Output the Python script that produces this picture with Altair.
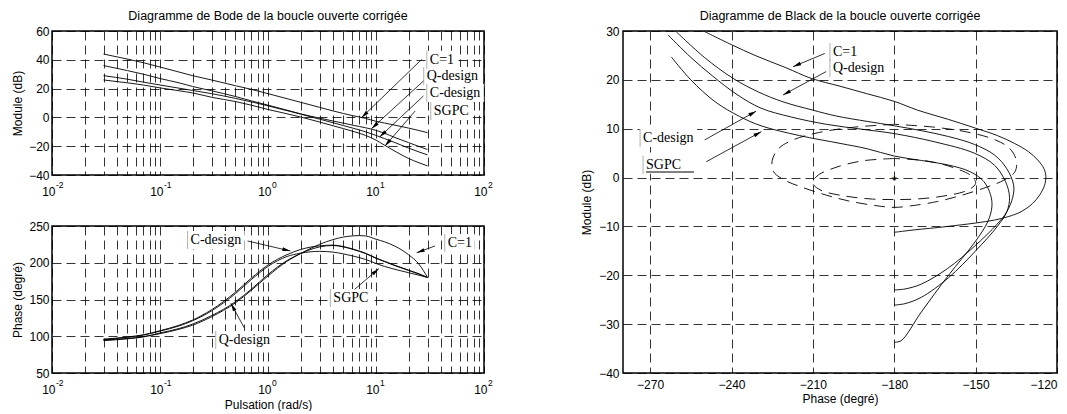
import math
import altair as alt
import pandas as pd

SANS = "Liberation Sans"
SERIF = "Liberation Serif"

# ---------------- Bode data ----------------
W = [0.03, 0.05, 0.07, 0.1, 0.15, 0.2, 0.3, 0.5, 0.7, 1, 1.5, 2, 3, 4, 5, 6, 7, 8, 10, 12, 15, 20, 25, 30]
curves = ["C=1", "Q-design", "C-design", "SGPC"]

mag_c1 = [44, 40.5, 38, 35, 31.5, 29, 26, 22, 19.5, 16.5, 13, 10.5, 7, 4.5, 2.7, 1.3, 0.3, -0.7, -2.7, -3.9, -5.4, -7.4, -9.1, -10.6]
mag_q = [36, 32.5, 30, 27, 24, 21.5, 18.5, 14.5, 11.5, 8.5, 5, 2.5, -0.5, -2.5, -4, -5.3, -6.3, -7.2, -9, -11, -14, -17.5, -20.2, -22.3]
mag_c = [29, 26.5, 24.5, 22.5, 20.3, 18.7, 16.5, 13.2, 10.8, 8, 4.7, 2.3, -1.2, -3.7, -5.7, -7.3, -8.7, -10, -12.5, -14.7, -17.5, -21.3, -24, -26]
mag_s = [26, 24, 22.5, 20.5, 18.5, 17, 14, 11, 8.5, 5.5, 2.5, 0.3, -3.2, -5.8, -7.8, -9.5, -11, -12.5, -15.8, -19.3, -23.5, -28.5, -31.5, -33.7]

ph_c1 = [95, 97, 99.5, 103.5, 109.5, 115, 126.5, 145.5, 162.5, 182, 202, 212.5, 225, 231.5, 235, 236.5, 237, 236.5, 232, 228.5, 222.5, 211, 198, 180]
ph_q = [94, 96.5, 99, 104.5, 110.5, 116.5, 128, 147, 164, 184, 203, 212.5, 221.5, 223.5, 221.5, 218.5, 215.5, 212.5, 206, 201.5, 196, 189.5, 184.5, 180]
ph_c = [96, 99, 102, 107.5, 115, 122, 136, 160, 179, 197, 211, 218, 223, 224, 222, 219, 216, 213, 206.5, 202, 196.5, 190, 185, 180]
ph_s = [95.5, 98.5, 101.5, 107, 114, 121, 134.5, 158, 177, 195, 208.5, 213, 215.5, 214.5, 212, 209.5, 207, 204.5, 199, 195, 191, 186.5, 183, 180]

# ---------------- Black (Nichols) traces ----------------
bk_c1_ph = [-251.1, -240, -230.9, -220, -210.6, -200, -190.3, -180, -171.4, -160, -150.5, -142, -135.7, -130.5, -127.1, -124.8, -124.1, -124.6, -126.3, -129, -133.3, -138, -143.1, -150, -160.3, -167, -172.6, -177, -180]
bk_c1_mg = [30.2, 27.2, 24.9, 22.5, 20.3, 18.7, 17.2, 15.6, 13.8, 11.9, 10.2, 8.6, 7.0, 5.3, 3.6, 1.8, 0.2, -1.6, -3.5, -5.3, -7.0, -8.0, -8.7, -9.3, -10.0, -10.4, -10.7, -11.0, -11.2]
bk_q_ph = [-261, -250, -239.4, -230, -221, -210, -201.4, -190, -180, -170, -160, -150.5, -143, -138.5, -136, -136.3, -138.5, -142, -150.5, -160.3, -170, -176, -180]
bk_q_mg = [30.2, 24.6, 20.3, 17.5, 15.5, 13.8, 12.6, 11.5, 10.6, 9.6, 8.4, 6.8, 4.6, 1.8, -1.5, -4.0, -7.0, -9.5, -14.1, -18.6, -21.8, -22.8, -23]
bk_c_ph = [-263.4, -255, -247, -238, -229.1, -218, -205, -192, -180, -165, -150.5, -143, -139, -137.5, -138.5, -142, -150, -160, -170, -176, -180]
bk_c_mg = [29.2, 24.6, 20.8, 17, 14.2, 12.4, 10.9, 9.9, 9.0, 7.3, 5.0, 2.5, -0.8, -4, -7, -10, -15, -20.5, -24.5, -25.8, -26.1]
bk_s_ph = [-262.2, -255, -246, -237, -229.1, -215, -200, -190, -180, -170, -160.3, -152, -147, -144.5, -144, -145.5, -150, -160, -170, -177.5, -180]
bk_s_mg = [24.7, 20, 15.5, 12.5, 10.6, 8.6, 7, 5.9, 4.4, 3.5, 2.6, 1.2, -0.8, -3.5, -6, -9, -13, -20, -27.5, -33.4, -33.7]

# dashed contours around (-180, 0)
outer_ph = [-180, -195, -208, -217.3, -222.5, -225, -224.5, -220.5, -214.4, -205, -195.9, -186, -180, -174, -164.1, -155, -145.6, -139.5, -135.5, -135, -137.5, -142.7, -152, -165, -180]
outer_mg = [10.9, 10.3, 9.2, 7.7, 6, 3.5, 1.2, -0.5, -1.9, -3.6, -4.9, -5.8, -6.1, -5.8, -4.9, -3.6, -1.9, -0.5, 1.2, 3.5, 6, 7.7, 9.2, 10.3, 10.9]
inner_ph = [-180, -192, -202, -208.5, -210, -207, -198, -188, -180, -172, -162, -153, -150, -151.5, -158, -168, -180]
inner_mg = [3.9, 3.4, 2.0, 0.3, -1.2, -2.6, -3.8, -4.4, -4.5, -4.4, -3.8, -2.6, -1.2, 0.3, 2.0, 3.4, 3.9]

# ---------------- labels / arrows ----------------
top_lab = [("C=1", 31.5, 40), ("Q-design", 29.5, 28.7), ("C-design", 31.5, 16.9), ("SGPC", 34.3, 4.4)]
top_arr = [(26.5, 40.3, 7.33, -0.2), (27.5, 25.3, 9.08, -7.8), (27.5, 14.9, 10.8, -13.6), (23.0, 4.4, 12.1, -19.9)]
bot_lab = [("C-design", 0.192, 231), ("Q-design", 0.35, 94.9), ("SGPC", 4.03, 152), ("C=1", 46.2, 226.9)]
bot_arr = [(0.647, 229.6, 1.61, 216), (0.602, 111.6, 0.453, 144.8), (6.35, 163.9, 10.6, 191.9), (35.2, 222.8, 23.8, 213.7)]
blk_lab = [("C=1", -202.6, 25.7), ("Q-design", -202.6, 22.4), ("C-design", -272.6, 8.1), ("SGPC", -271.5, 2.6)]
blk_arr = [(-205.6, 25.4, -217.3, 22.7), (-205.1, 21.7, -221.0, 16.9), (-249.9, 7.7, -230.9, 13.6), (-249.3, 3.25, -229.0, 9.4)]

decades = [0.01, 0.1, 1, 10, 100]
dec_sup = ["-2", "-1", "0", "1", "2"]

# ---------------- geometry ----------------
LW, TH, BH = 432, 144, 147
RW, RH = 434, 342
minor = [k * 10 ** e for e in range(-2, 2) for k in range(1, 10)] + [100]
DASH = [9, 5]
TXT_W = {"C=1": 24, "Q-design": 51, "C-design": 51, "SGPC": 36}


def ang(dx, dy):
    return (math.degrees(math.atan2(dx, -dy)) + 360) % 360


HEAD = "M0,0L0.38,1.6L-0.38,1.6Z"

rows = []
for name, m, p in zip(curves, [mag_c1, mag_q, mag_c, mag_s], [ph_c1, ph_q, ph_c, ph_s]):
    for w, a, b in zip(W, m, p):
        rows.append({"w": w, "v": a, "ph": b, "curve": name})
bode = pd.DataFrame(rows)

rows = []
for name, ph, mg in zip(curves, [bk_c1_ph, bk_q_ph, bk_c_ph, bk_s_ph], [bk_c1_mg, bk_q_mg, bk_c_mg, bk_s_mg]):
    for i, (a, b) in enumerate(zip(ph, mg)):
        rows.append({"p": a, "m": b, "curve": name, "ord": i})
black = pd.DataFrame(rows)

rows = []
for name, ph, mg in [("outer", outer_ph, outer_mg), ("inner", inner_ph, inner_mg)]:
    for i, (a, b) in enumerate(zip(ph, mg)):
        rows.append({"p": a, "m": b, "c": name, "ord": i})
cont = pd.DataFrame(rows)

axis_common = dict(gridColor="black", gridDash=DASH, gridWidth=0.8, gridOpacity=1,
                   ticks=False, domain=False, labelFont=SANS, labelFontSize=12,
                   labelColor="black", titleFont=SANS, titleFontSize=12,
                   titleFontWeight="normal", titleColor="black")


def annotations(labs, arrs, fx, fy, ifx, ify, X, Y):
    """labels with white boxes, leader lines and arrow heads"""
    arr_df = pd.DataFrame([{"a": a, "b": b, "a2": c, "b2": e,
                            "ang": ang(fx(c) - fx(a), fy(e) - fy(b))} for a, b, c, e in arrs])
    rules = alt.Chart(arr_df).mark_rule(color="black", strokeWidth=0.8).encode(
        x=X("a"), y=Y("b"), x2="a2:Q", y2="b2:Q")
    heads = alt.Chart(arr_df.assign(a=arr_df.a2, b=arr_df.b2)).mark_point(
        shape=HEAD, filled=True, color="black", size=100, opacity=1).encode(
        x=X("a"), y=Y("b"), angle=alt.Angle("ang:Q", scale=None))
    lab_df = pd.DataFrame([{"t": t, "a": a, "b": b} for t, a, b in labs])
    box = []
    for t, a, b in labs:
        px, py = fx(a), fy(b)
        box.append({"a": ifx(px - 3), "a2": ifx(px + TXT_W[t] + 3), "b": ify(py - 9), "b2": ify(py + 9)})
    box_df = pd.DataFrame(box)
    rects = alt.Chart(box_df).mark_rect(color="white", opacity=1).encode(
        x=X("a"), x2="a2:Q", y=Y("b"), y2="b2:Q")
    edges = alt.Chart(box_df).mark_rule(color="#b0b0b0", strokeWidth=1).encode(
        x=X("a"), y=Y("b"), y2="b2:Q")
    texts = alt.Chart(lab_df).mark_text(font=SERIF, fontSize=14, align="left", baseline="middle", color="black").encode(
        x=X("a"), y=Y("b"), text="t:N")
    return rects, edges, rules, heads, texts


def bode_panel(ycol, ydom, yvals, ytitle, H, labs, arrs, xtitle=None):
    xscale = alt.Scale(type="log", domain=[0.01, 100], nice=False)
    yscale = alt.Scale(domain=ydom, nice=False, zero=False)
    fx = lambda w: LW * (math.log10(w) + 2) / 4
    ifx = lambda px: 10 ** (4 * px / LW - 2)
    fy = lambda v: H * (ydom[1] - v) / (ydom[1] - ydom[0])
    ify = lambda py: ydom[1] - py * (ydom[1] - ydom[0]) / H
    xax = alt.Axis(values=minor, grid=True, labels=False, title=xtitle,
                   titlePadding=26, **axis_common)
    yax = alt.Axis(values=yvals, grid=True, title=ytitle, labelPadding=3, titlePadding=4,
                   **axis_common)
    X = lambda f: alt.X(f"{f}:Q", scale=xscale, axis=xax)
    Y = lambda f: alt.Y(f"{f}:Q", scale=yscale, axis=yax)
    d = bode.rename(columns={"w": "a", ycol: "b"})
    lines = alt.Chart(d).mark_line(color="black", strokeWidth=0.9, interpolate="monotone").encode(
        x=X("a"), y=Y("b"), detail="curve:N")
    rects, edges, rules, heads, texts = annotations(labs, arrs, fx, fy, ifx, ify, X, Y)
    dec_df = pd.DataFrame({"a": decades, "s": dec_sup, "t": ["10"] * 5})
    d10 = alt.Chart(dec_df).mark_text(font=SANS, fontSize=12, align="right", baseline="middle", dx=3.5, color="black").encode(
        x=X("a"), y=alt.value(H + 17), text="t:N")
    dsup = alt.Chart(dec_df).mark_text(font=SANS, fontSize=8.5, align="left", baseline="middle", dx=4, color="black").encode(
        x=X("a"), y=alt.value(H + 10), text="s:N")
    return alt.layer(rects, lines, edges, rules, heads, texts, d10, dsup).properties(width=LW, height=H)


TITLE = dict(font=SANS, fontSize=12.5, fontWeight="normal", color="black", offset=3)

top = bode_panel("v", [-40, 60], [-40, -20, 0, 20, 40, 60], "Module (dB)", TH, top_lab, top_arr).properties(
    title=alt.TitleParams("Diagramme de Bode de la boucle ouverte corrigée", **TITLE))
bot = bode_panel("ph", [50, 250], [50, 100, 150, 200, 250], "Phase (degré)", BH, bot_lab, bot_arr,
                 xtitle="Pulsation (rad/s)")

# ---------------- Black panel ----------------
pxs = alt.Scale(domain=[-280, -120], nice=False, zero=False)
pys = alt.Scale(domain=[-40, 30], nice=False, zero=False)
bfx = lambda p: RW * (p + 280) / 160
bifx = lambda px: px * 160 / RW - 280
bfy = lambda m: RH * (30 - m) / 70
bify = lambda py: 30 - py * 70 / RH

bxax = alt.Axis(values=[-270, -240, -210, -180, -150, -120], grid=True, title="Phase (degré)",
                labelPadding=6, titlePadding=3, **axis_common)
byax = alt.Axis(values=[-40, -30, -20, -10, 0, 10, 20, 30], grid=True, title="Module (dB)",
                labelPadding=4, titlePadding=5, **axis_common)
BX = lambda f: alt.X(f"{f}:Q", scale=pxs, axis=bxax)
BY = lambda f: alt.Y(f"{f}:Q", scale=pys, axis=byax)

blines = alt.Chart(black.rename(columns={"p": "a", "m": "b"})).mark_line(
    color="black", strokeWidth=0.9, interpolate="catmull-rom", clip=True).encode(
    x=BX("a"), y=BY("b"), detail="curve:N", order="ord:Q")
bcont = alt.Chart(cont.rename(columns={"p": "a", "m": "b"})).mark_line(
    color="black", strokeWidth=0.9, strokeDash=[11, 7], interpolate="catmull-rom").encode(
    x=BX("a"), y=BY("b"), detail="c:N", order="ord:Q")
star_df = pd.DataFrame({"a": [-180], "b": [0], "t": ["*"]})
star = alt.Chart(star_df).mark_text(font=SANS, fontSize=13, baseline="middle", dy=3, color="black").encode(
    x=BX("a"), y=BY("b"), text="t:N")
brects, bedges, brules, bheads, btexts = annotations(blk_lab, blk_arr, bfx, bfy, bifx, bify, BX, BY)
uline_df = pd.DataFrame({"a": [-271.5], "a2": [-253.8], "b": [1.14]})
uline = alt.Chart(uline_df).mark_rule(color="black", strokeWidth=1).encode(
    x=BX("a"), x2="a2:Q", y=BY("b"))

right = alt.layer(brects, blines, bcont, star, bedges, brules, bheads, btexts, uline).properties(
    width=RW, height=RH,
    title=alt.TitleParams("Diagramme de Black de la boucle ouverte corrigée", **TITLE))

left = alt.vconcat(top, bot, spacing=20)
chart = alt.hconcat(left, right, spacing=85).properties(
    padding={"left": 2, "top": 0, "right": 0, "bottom": 0}
).configure(background="white").configure_view(stroke="black", strokeWidth=1.5)

chart.save("out.html", embed_options={"renderer": "svg", "actions": False})
